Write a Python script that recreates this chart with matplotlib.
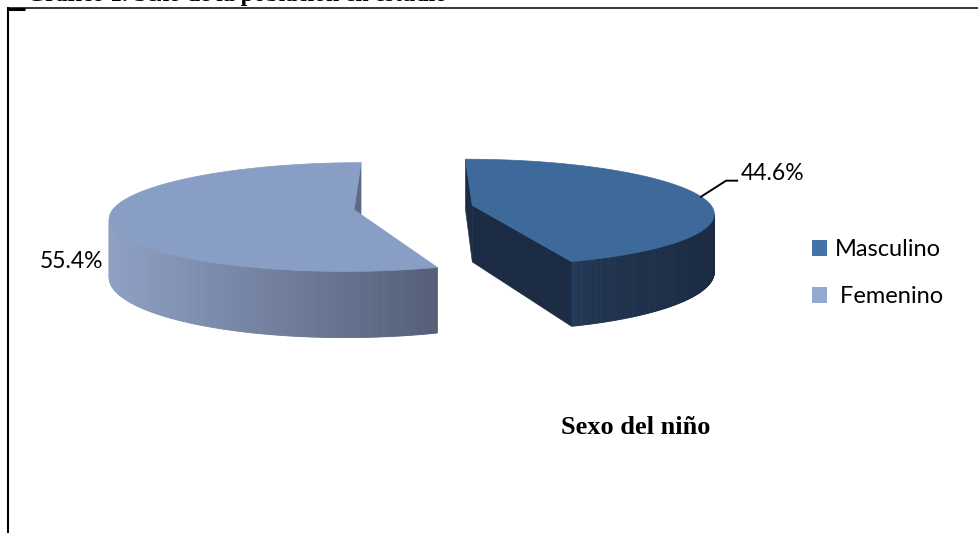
import matplotlib
matplotlib.use("Agg")
import matplotlib.pyplot as plt
import numpy as np
from matplotlib.patches import Polygon, Patch

# ─── data ──────────────────────────────────────────────────────────
labels = ["Masculino", "Femenino"]
values = [44.6, 55.4]
pct_text = ["44.6%", "55.4%"]
top_colors = ["#3e6a9b", "#899ec4"]
legend_colors = ["#4572a7", "#94a8d0"]
side_left = [(0.15, 0.25, 0.38), (0.56, 0.63, 0.77)]
side_right = [(0.11, 0.17, 0.26), (0.33, 0.37, 0.47)]
face_colors = ["#1c2c44", "#5f6b86"]
title_cut = "Gráfico 1. Sexo de la población en estudio"
chart_title = "Sexo del niño"

# ─── 3D pie geometry (pixel space) ─────────────────────────────────
R, K, D, H = 240.0, 0.22, 7.5, 57.0
XC, YC = 413.5, 207.5
EXPLODE = 0.25
START = 90.0


def project(u, v, z):
    """Pie-plane coords (u right, v back, z=1 top / 0 bottom) -> pixels."""
    s = D / (D + v)
    return XC + R * u * s, YC + s * (-R * K * v + H * (1.0 - z))


fig = plt.figure(figsize=(9.79, 5.33), dpi=100)
ax = fig.add_axes([0, 0, 1, 1])
ax.set_xlim(0, 979)
ax.set_ylim(533, 0)
ax.axis("off")

fracs = np.array(values) / sum(values)
t_start = START
anchors = []
for i, f in enumerate(fracs):
    t1 = np.radians(t_start - 360 * f)
    t2 = np.radians(t_start)
    t_start -= 360 * f
    mid = 0.5 * (t1 + t2)
    du, dv = EXPLODE * np.cos(mid), EXPLODE * np.sin(mid)

    # outer curved side, only the part facing the viewer
    ts = np.linspace(t1, t2, 400)
    vis = np.sin(ts) < -(1 + du * np.cos(ts) + dv * np.sin(ts)) / D
    tv = ts[vis]
    if len(tv) > 1:
        xt, yt = project(du + np.cos(tv), dv + np.sin(tv), 1)
        xb, yb = project(du + np.cos(tv), dv + np.sin(tv), 0)
        x0, x1 = xt.min(), xt.max()
        cl, cr = np.array(side_left[i]), np.array(side_right[i])
        for j in range(len(tv) - 1):
            w = ((xt[j] + xt[j + 1]) / 2 - x0) / (x1 - x0)
            if i == 0:
                w = w ** 0.35
            c = cl + (cr - cl) * w
            poly = [(xt[j], yt[j]), (xt[j + 1], yt[j + 1]),
                    (xb[j + 1], yb[j + 1]), (xb[j], yb[j])]
            ax.add_patch(Polygon(poly, closed=True, facecolor=c,
                                 edgecolor=c, lw=0.6))

    # radial faces that face the camera
    for t, sign in ((t1, -1), (t2, 1)):
        nu, nv = -sign * np.sin(t), sign * np.cos(t)
        if nu * (0 - du) + nv * (-D - dv) > 0:
            pts = [project(du, dv, 1), project(du + np.cos(t), dv + np.sin(t), 1),
                   project(du + np.cos(t), dv + np.sin(t), 0), project(du, dv, 0)]
            ax.add_patch(Polygon(pts, closed=True, facecolor=face_colors[i],
                                 edgecolor=face_colors[i], lw=0.4))

    # top face
    ts = np.linspace(t1, t2, 300)
    xt, yt = project(du + np.cos(ts), dv + np.sin(ts), 1)
    ax0, ay0 = project(du, dv, 1)
    top = np.column_stack([np.r_[ax0, xt], np.r_[ay0, yt]])
    ax.add_patch(Polygon(top, closed=True, facecolor=top_colors[i],
                         edgecolor=top_colors[i], lw=0.5))
    anchors.append(project(du + np.cos(mid), dv + np.sin(mid), 1))

# ─── data labels ───────────────────────────────────────────────────
lab_font = dict(family="Lato", fontsize=16.5, color="black")
mx, my = anchors[0]
ax.plot([mx, mx + 25, mx + 36], [my, my - 16, my - 16], color="black", lw=1.4)
ax.text(mx + 40, my - 23, pct_text[0], ha="left", va="center", **lab_font)
fx, fy = anchors[1]
ax.text(fx - 6, fy + 43, pct_text[1], ha="right", va="center", **lab_font)

# ─── legend ────────────────────────────────────────────────────────
handles = [Patch(facecolor=c, edgecolor="none") for c in legend_colors]
ax.legend(handles, [labels[0], " " + labels[1]], loc="upper left",
          bbox_to_anchor=(812, 239), bbox_transform=ax.transData,
          frameon=False, borderpad=0, borderaxespad=0,
          handlelength=0.65, handleheight=0.65,
          handletextpad=0.3, labelspacing=1.12,
          prop=dict(family="Lato", size=17))

# ─── chart title and page bits ─────────────────────────────────────
ax.text(636, 428, chart_title, ha="center", va="center",
        family="Liberation Serif", fontweight="bold", fontsize=19)
# page heading above the chart box, cut off by the top edge as in the source
ax.text(27, 0.5, title_cut, ha="left", va="baseline",
        family="Liberation Serif", fontweight="bold", fontsize=17)
ax.plot([8.5, 979], [7.5, 7.5], color="black", lw=1.1, solid_capstyle="butt")
ax.plot([8.5, 8.5], [7, 533], color="black", lw=1.5, solid_capstyle="butt")
ax.plot([8, 25], [8.8, 8.8], color="black", lw=2.2, solid_capstyle="butt")

fig.savefig("out.png", dpi=100)
